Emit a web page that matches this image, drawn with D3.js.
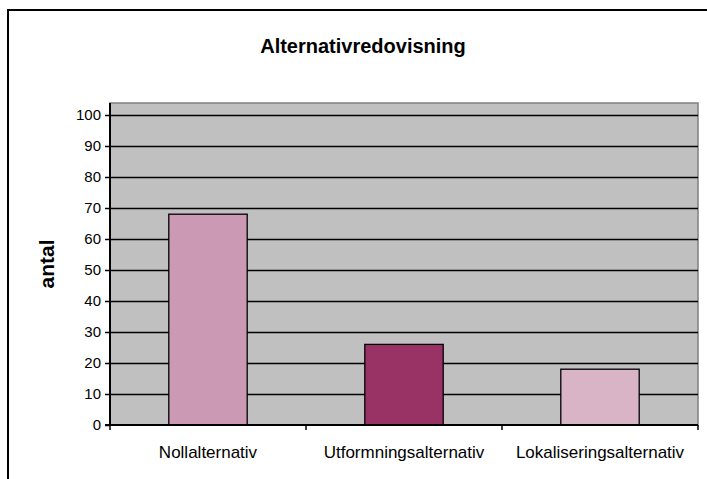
<!DOCTYPE html>
<html>
<head>
<meta charset="utf-8">
<script src="https://cdn.jsdelivr.net/npm/d3@7"></script>
<style>
  html, body { margin: 0; padding: 0; background: #fff; }
  svg { display: block; font-family: "Liberation Sans", Arial, sans-serif; }
</style>
</head>
<body>
<script>
// Chart data
const categories = ["Nollalternativ", "Utformningsalternativ", "Lokaliseringsalternativ"];
const values = [68, 26, 18];
const barColors = ["#cc99b4", "#993366", "#d9b3c6"];
const yTicks = [0, 10, 20, 30, 40, 50, 60, 70, 80, 90, 100];
const titleText = "Alternativredovisning";
const yLabelText = "antal";

const W = 707, H = 479;
const plot = { left: 110, right: 698, top: 103, bottom: 425 };

const svg = d3.select("body").append("svg")
  .attr("width", W).attr("height", H);

// Outer chart frame (extends past the right and bottom edges)
svg.append("rect")
  .attr("x", 8).attr("y", 10)
  .attr("width", W + 10).attr("height", H + 10)
  .attr("fill", "#fff").attr("stroke", "#000").attr("stroke-width", 2);

const x = d3.scaleBand()
  .domain(categories)
  .range([plot.left, plot.right])
  .paddingInner(0.6).paddingOuter(0.3);

const y = d3.scaleLinear()
  .domain([0, 100])
  .range([plot.bottom, 115]);

// Plot area background
svg.append("rect")
  .attr("x", plot.left).attr("y", plot.top)
  .attr("width", plot.right - plot.left).attr("height", plot.bottom - plot.top)
  .attr("fill", "#c0c0c0").attr("stroke", "#808080").attr("stroke-width", 1.5);

// Horizontal gridlines
svg.append("g").selectAll("line")
  .data(yTicks.filter(d => d > 0))
  .join("line")
  .attr("x1", plot.left).attr("x2", plot.right)
  .attr("y1", d => Math.round(y(d)) + 0.5).attr("y2", d => Math.round(y(d)) + 0.5)
  .attr("stroke", "#000").attr("stroke-width", 1.3);

// Bars
svg.append("g").selectAll("rect")
  .data(values)
  .join("rect")
  .attr("x", (d, i) => x(categories[i]))
  .attr("y", d => y(d))
  .attr("width", x.bandwidth())
  .attr("height", d => plot.bottom - y(d))
  .attr("fill", (d, i) => barColors[i])
  .attr("stroke", "#000").attr("stroke-width", 1.3);

// Y axis
const yAxis = svg.append("g")
  .attr("transform", `translate(${plot.left},0)`)
  .call(d3.axisLeft(y).tickValues(yTicks).tickSize(5).tickPadding(4));
yAxis.attr("font-size", 15).attr("font-family", "Liberation Sans, Arial, sans-serif");
yAxis.select(".domain").attr("stroke", "#000").attr("stroke-width", 2)
  .attr("d", `M0,${plot.top}V${plot.bottom}`);
yAxis.selectAll(".tick line").attr("stroke", "#000").attr("stroke-width", 1.5);
yAxis.selectAll(".tick text").attr("fill", "#000");

// X axis with ticks between categories
const xAxis = svg.append("g")
  .attr("transform", `translate(0,${plot.bottom})`);
xAxis.append("line")
  .attr("x1", plot.left - 5).attr("x2", plot.right)
  .attr("y1", 0).attr("y2", 0)
  .attr("stroke", "#000").attr("stroke-width", 2);
const boundaries = d3.range(categories.length + 1).map(i => plot.left + i * (plot.right - plot.left) / categories.length);
xAxis.selectAll("line.tk")
  .data(boundaries)
  .join("line").attr("class", "tk")
  .attr("x1", d => d).attr("x2", d => d)
  .attr("y1", 0).attr("y2", 5)
  .attr("stroke", "#000").attr("stroke-width", 1.5);
xAxis.selectAll("text")
  .data(categories)
  .join("text")
  .attr("x", d => x(d) + x.bandwidth() / 2)
  .attr("y", 33)
  .attr("text-anchor", "middle")
  .attr("font-size", 17).attr("fill", "#000")
  .text(d => d);

// Title
svg.append("text")
  .attr("x", 363).attr("y", 53)
  .attr("text-anchor", "middle")
  .attr("font-size", 20).attr("font-weight", "bold")
  .text(titleText);

// Y axis label
svg.append("text")
  .attr("transform", "translate(54,264) rotate(-90)")
  .attr("text-anchor", "middle")
  .attr("font-size", 21).attr("font-weight", "bold")
  .text(yLabelText);
</script>
</body>
</html>
